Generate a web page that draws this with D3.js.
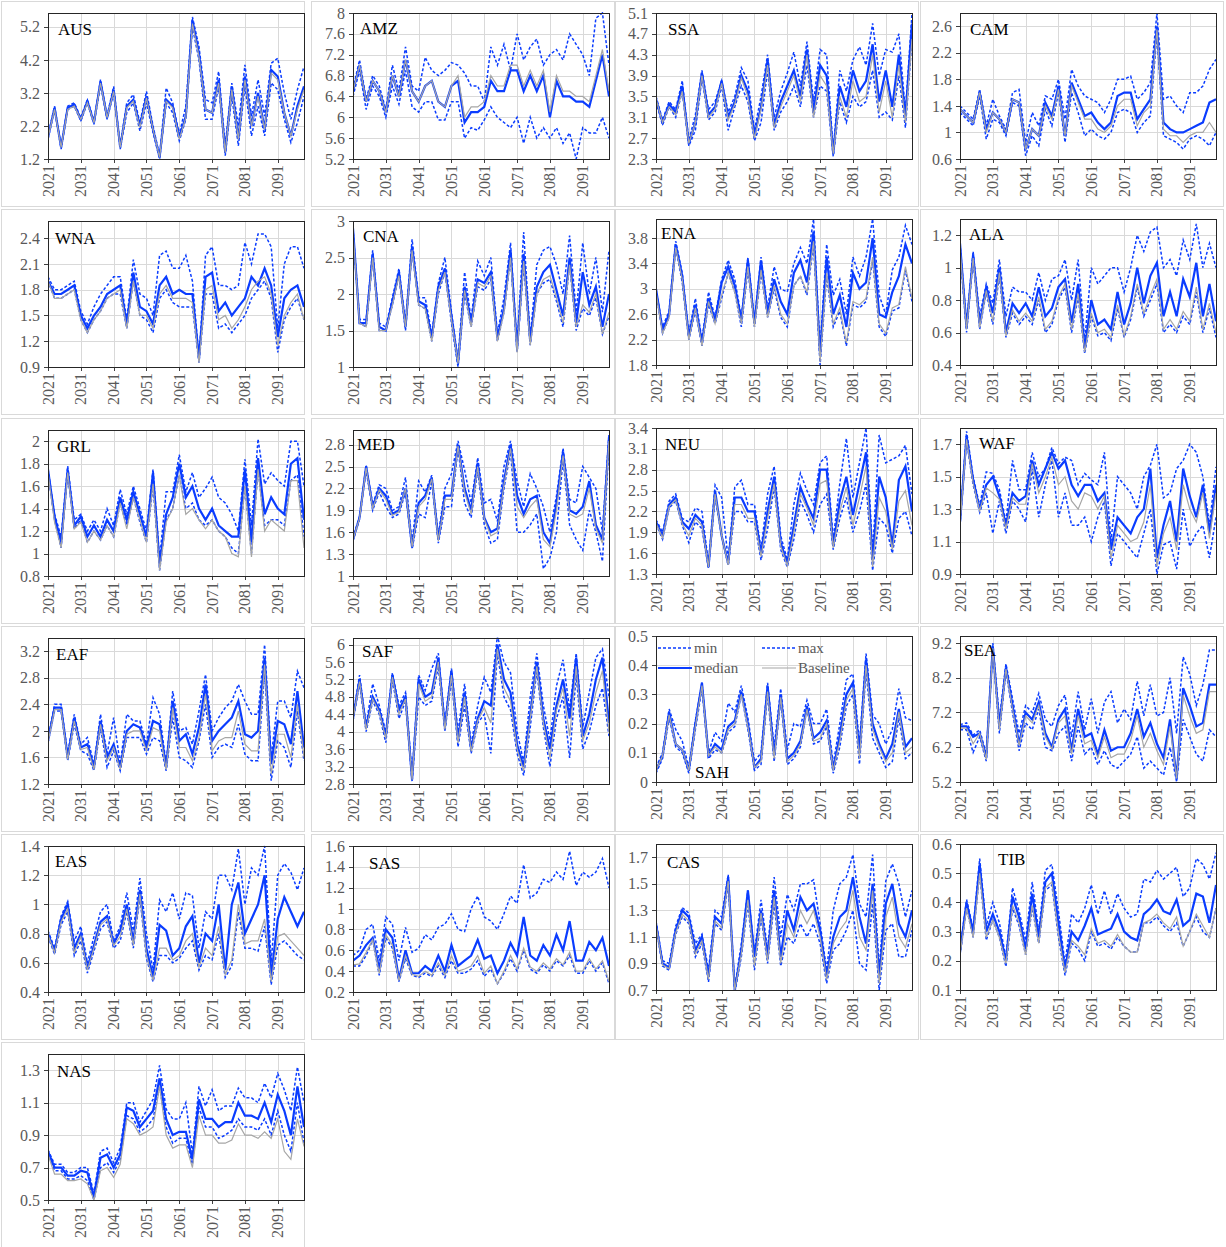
<!DOCTYPE html>
<html>
<head>
<meta charset="utf-8">
<script src="https://cdn.jsdelivr.net/npm/d3@7"></script>
<style>
body { margin: 0; background: #fff; }
text { font-family: "Liberation Serif", "Times New Roman", serif; }
</style>
</head>
<body>
<div id="chart"></div>
<script>
// one sample every second year, 2021..2099
var years = d3.range(2021, 2100, 2);
var xTicks = [2021, 2031, 2041, 2051, 2061, 2071, 2081, 2091];

var ausTicks = [1.2, 2.2, 3.2, 4.2, 5.2];
var ausMed = [1.85,2.75,1.55,2.75,2.85,2.4,2.95,2.3,3.55,2.45,3.3,1.55,2.8,3.0,2.2,3.1,2.1,1.25,3.0,2.8,1.85,2.5,5.4,4.4,2.7,2.6,3.6,1.4,3.4,1.8,3.7,2.2,3.2,2.1,3.9,3.7,2.6,1.9,2.8,3.4];
var ausMax = [1.9,2.8,1.6,2.8,2.9,2.45,3.0,2.35,3.6,2.5,3.4,1.6,2.9,3.15,2.3,3.25,2.2,1.3,3.35,2.9,1.95,2.8,5.5,4.6,3.0,2.9,3.85,1.6,3.5,2.2,4.05,2.5,3.6,2.5,4.1,4.25,3.2,2.4,3.3,4.0];
var ausMin = [1.8,2.7,1.5,2.7,2.8,2.35,2.9,2.25,3.45,2.4,3.2,1.5,2.6,2.9,2.05,2.9,2.0,1.2,2.9,2.6,1.75,2.4,5.2,4.2,2.4,2.4,3.4,1.3,3.1,1.6,3.4,1.9,2.8,1.9,3.5,3.3,2.4,1.7,2.3,3.1];
var ausBase = [1.85,2.7,1.55,2.7,2.8,2.4,2.9,2.3,3.5,2.45,3.25,1.55,2.75,2.95,2.15,3.05,2.1,1.25,2.95,2.75,1.8,2.45,5.3,4.3,2.7,2.6,3.5,1.4,3.3,1.8,3.6,2.2,3.1,2.1,3.8,3.6,2.6,1.9,2.7,3.3];

var amzTicks = [5.2, 5.6, 6, 6.4, 6.8, 7.2, 7.6, 8];
var amzMed = [6.5,7.0,6.3,6.7,6.5,6.1,6.8,6.4,7.1,6.5,6.3,6.6,6.7,6.3,6.2,6.6,6.7,5.9,6.1,6.1,6.2,6.7,6.5,6.5,6.9,6.9,6.5,6.8,6.5,6.8,6.0,6.7,6.4,6.4,6.3,6.3,6.2,6.7,7.2,6.4];
var amzMax = [6.55,7.1,6.35,6.8,6.6,6.15,7.0,6.5,7.35,6.6,6.5,7.15,6.9,6.8,6.9,7.05,7.0,6.85,6.6,6.6,6.3,7.35,7.0,7.4,6.9,7.6,7.1,7.35,7.5,7.0,7.2,7.3,7.1,7.6,7.4,7.2,6.8,7.9,8.0,7.0];
var amzMin = [6.4,6.9,6.15,6.6,6.4,6.0,6.6,6.25,6.9,6.2,6.1,6.3,6.3,5.95,5.95,6.3,6.3,5.6,5.8,5.75,5.95,6.2,6.0,5.9,5.8,6.0,5.5,6.0,5.6,5.8,5.6,5.8,5.5,5.7,5.2,5.8,5.7,5.7,6.0,5.6];
var amzBase = [6.5,7.0,6.3,6.7,6.5,6.1,6.8,6.4,7.1,6.5,6.3,6.6,6.7,6.3,6.2,6.6,6.8,6.0,6.2,6.2,6.3,6.8,6.6,6.6,7.0,7.0,6.6,6.9,6.6,6.9,6.1,6.8,6.5,6.5,6.4,6.4,6.3,6.8,7.3,6.5];

var ssaTicks = [2.3, 2.7, 3.1, 3.5, 3.9, 4.3, 4.7, 5.1];
var ssaMed = [3.45,3.0,3.35,3.2,3.7,2.6,3.0,3.95,3.15,3.3,3.8,3.1,3.4,3.9,3.6,2.75,3.3,4.2,2.95,3.4,3.7,4.0,3.5,4.4,3.2,4.1,3.9,2.4,3.7,3.3,4.0,3.6,3.8,4.5,3.4,4.0,3.3,4.3,3.1,4.9];
var ssaMax = [3.5,3.05,3.4,3.25,3.8,2.65,3.15,4.0,3.25,3.4,3.8,3.2,3.5,4.05,3.8,2.85,3.5,4.3,3.1,3.6,3.95,4.35,3.7,4.55,3.4,4.4,4.3,2.45,4.0,3.6,4.2,4.45,4.1,4.9,3.9,4.4,4.35,4.7,3.2,5.1];
var ssaMin = [3.4,2.95,3.3,3.1,3.6,2.55,2.85,3.85,3.05,3.2,3.7,2.85,3.3,3.7,3.4,2.65,3.0,4.0,2.85,3.2,3.4,3.7,3.3,4.1,3.1,3.7,3.6,2.35,3.4,3.0,3.5,3.3,3.4,4.0,3.1,3.2,3.05,3.9,2.9,4.6];
var ssaBase = [3.45,3.0,3.3,3.15,3.6,2.6,3.0,3.9,3.1,3.25,3.75,3.05,3.35,3.85,3.5,2.7,3.25,4.1,2.9,3.3,3.6,3.9,3.4,4.3,3.1,3.9,3.7,2.4,3.5,3.1,3.8,3.4,3.5,4.3,3.2,3.8,3.1,4.1,3.0,4.6];

var camTicks = [0.6, 1, 1.4, 1.8, 2.2, 2.6];
var camMed = [1.35,1.25,1.15,1.6,1.05,1.3,1.2,1.0,1.5,1.45,0.75,1.05,0.95,1.45,1.25,1.7,0.95,1.75,1.5,1.25,1.3,1.15,1.05,1.15,1.55,1.6,1.6,1.2,1.35,1.5,2.6,1.15,1.05,1.0,1.0,1.05,1.1,1.15,1.45,1.5];
var camMax = [1.4,1.3,1.2,1.65,1.1,1.5,1.25,1.05,1.6,1.65,0.85,1.3,1.1,1.55,1.5,1.8,1.2,1.95,1.7,1.55,1.5,1.45,1.3,1.5,1.8,1.8,1.85,1.5,1.6,1.75,2.8,1.5,1.55,1.4,1.3,1.6,1.6,1.7,1.95,2.1];
var camMin = [1.3,1.2,1.1,1.55,0.9,1.2,1.15,0.95,1.45,1.4,0.65,0.95,0.8,1.35,1.1,1.6,0.85,1.6,1.3,0.95,1.05,0.95,0.9,1.0,1.3,1.35,1.3,1.0,1.15,1.25,2.5,0.95,0.9,0.85,0.75,0.9,0.95,0.9,0.8,1.0];
var camBase = [1.35,1.25,1.15,1.6,1.0,1.3,1.2,1.0,1.5,1.45,0.75,1.05,0.95,1.4,1.2,1.65,0.95,1.7,1.45,1.2,1.2,1.05,1.0,1.1,1.4,1.5,1.5,1.1,1.3,1.4,2.55,1.05,0.95,0.95,0.85,0.95,1.0,1.0,1.15,1.0];

var wnaTicks = [0.9, 1.2, 1.5, 1.8, 2.1, 2.4];
var wnaMed = [1.9,1.75,1.75,1.8,1.85,1.5,1.35,1.5,1.6,1.75,1.8,1.85,1.4,2.0,1.6,1.55,1.4,1.85,1.95,1.75,1.8,1.75,1.75,1.0,1.95,2.0,1.55,1.65,1.5,1.6,1.7,1.95,1.85,2.05,1.85,1.25,1.7,1.8,1.85,1.6];
var wnaMax = [1.95,1.8,1.8,1.85,1.9,1.55,1.4,1.6,1.75,1.85,1.95,1.95,1.45,2.15,1.75,1.7,1.5,2.2,2.25,2.05,2.05,2.2,1.9,1.0,2.2,2.3,1.85,1.85,1.8,1.85,2.35,2.1,2.45,2.45,2.3,1.35,2.1,2.3,2.3,2.05];
var wnaMin = [1.9,1.7,1.7,1.75,1.8,1.45,1.3,1.45,1.55,1.7,1.75,1.75,1.35,1.9,1.5,1.45,1.3,1.7,1.8,1.65,1.6,1.6,1.6,0.95,1.75,1.75,1.35,1.4,1.3,1.4,1.5,1.7,1.8,1.9,1.7,1.07,1.45,1.6,1.7,1.45];
var wnaBase = [1.9,1.7,1.7,1.75,1.8,1.45,1.3,1.45,1.55,1.7,1.75,1.8,1.35,1.9,1.5,1.5,1.35,1.75,1.85,1.7,1.7,1.7,1.65,0.95,1.8,1.85,1.45,1.5,1.35,1.45,1.6,1.8,1.9,1.95,1.75,1.15,1.5,1.65,1.75,1.45];

var cnaTicks = [1, 1.5, 2, 2.5, 3];
var cnaMed = [2.9,1.6,1.6,2.55,1.55,1.5,1.9,2.3,1.55,2.65,1.9,1.85,1.4,2.1,2.35,1.7,1.05,2.1,1.6,2.2,2.15,2.3,1.4,1.8,2.6,1.25,2.55,1.35,2.1,2.3,2.4,2.05,1.7,2.5,1.6,2.3,1.85,2.1,1.55,2.0];
var cnaMax = [2.9,1.65,1.65,2.6,1.6,1.55,1.95,2.35,1.6,2.75,1.95,1.95,1.45,2.15,2.5,1.75,1.1,2.3,1.65,2.45,2.25,2.5,1.45,1.95,2.7,1.3,2.85,1.4,2.4,2.6,2.65,2.4,2.0,2.8,1.75,2.7,2.0,2.5,1.75,2.6];
var cnaMin = [2.85,1.6,1.55,2.5,1.5,1.5,1.85,2.25,1.5,2.6,1.85,1.8,1.35,2.0,2.3,1.6,1.0,2.0,1.55,2.1,2.05,2.2,1.35,1.75,2.5,1.2,2.4,1.3,2.0,2.15,2.2,1.9,1.55,2.4,1.5,1.8,1.7,1.95,1.45,1.7];
var cnaBase = [2.85,1.6,1.55,2.5,1.5,1.5,1.85,2.25,1.55,2.6,1.85,1.8,1.35,2.05,2.3,1.65,1.05,2.05,1.55,2.15,2.1,2.25,1.35,1.75,2.5,1.2,2.45,1.3,2.0,2.2,2.25,1.95,1.6,2.4,1.55,1.85,1.75,2.0,1.45,1.75];

var enaTicks = [1.8, 2.2, 2.6, 3, 3.4, 3.8];
var enaMed = [3.0,2.35,2.6,3.7,3.2,2.25,2.75,2.15,2.85,2.5,3.1,3.35,3.05,2.5,3.45,2.45,3.45,2.6,3.15,2.8,2.6,3.25,3.45,3.1,3.9,1.95,3.5,2.6,2.9,2.4,3.25,3.0,3.1,3.8,2.6,2.55,2.95,3.2,3.7,3.4];
var enaMax = [3.0,2.4,2.65,3.75,3.25,2.3,2.85,2.2,2.95,2.55,3.15,3.45,3.15,2.55,3.5,2.5,3.5,2.7,3.35,3.0,2.95,3.4,3.65,3.4,4.1,2.05,3.7,2.9,3.15,2.6,3.5,3.2,3.5,4.1,2.9,2.6,3.3,3.5,4.0,3.7];
var enaMin = [2.95,2.3,2.55,3.65,3.1,2.2,2.65,2.1,2.75,2.45,2.85,3.25,2.95,2.4,3.3,2.4,3.25,2.55,3.0,2.55,2.4,3.05,3.2,2.9,3.7,1.8,3.2,2.4,2.65,2.1,2.75,2.7,2.8,3.45,2.4,2.25,2.65,2.7,3.3,2.8];
var enaBase = [2.95,2.3,2.55,3.65,3.15,2.2,2.7,2.1,2.8,2.45,2.9,3.25,2.95,2.45,3.35,2.4,3.3,2.55,3.05,2.6,2.45,3.05,3.2,2.95,3.75,1.85,3.25,2.45,2.7,2.15,2.8,2.75,2.85,3.5,2.45,2.3,2.7,2.75,3.35,2.85];

var alaTicks = [0.4, 0.6, 0.8, 1, 1.2];
var alaMed = [1.15,0.63,1.08,0.65,0.88,0.72,1.0,0.6,0.78,0.72,0.78,0.7,0.88,0.7,0.75,0.88,0.93,0.66,0.9,0.5,0.8,0.65,0.68,0.62,0.85,0.65,0.78,1.0,0.78,0.95,1.03,0.7,0.85,0.7,0.93,0.82,1.03,0.7,0.9,0.67];
var alaMax = [1.15,0.65,1.1,0.7,0.9,0.78,1.05,0.7,0.88,0.85,0.85,0.8,0.97,0.8,0.93,0.95,1.05,0.8,1.05,0.55,1.0,0.9,0.95,1.0,1.0,0.85,1.0,1.2,1.1,1.22,1.25,1.0,1.05,0.95,1.17,1.05,1.27,1.0,1.15,1.0];
var alaMin = [1.1,0.6,1.05,0.62,0.85,0.65,0.95,0.57,0.72,0.65,0.7,0.65,0.8,0.6,0.65,0.8,0.88,0.6,0.82,0.47,0.7,0.58,0.6,0.55,0.75,0.57,0.68,0.88,0.7,0.8,0.9,0.6,0.65,0.6,0.7,0.65,0.85,0.6,0.75,0.57];
var alaBase = [1.12,0.62,1.06,0.63,0.86,0.67,0.97,0.58,0.74,0.67,0.72,0.67,0.82,0.62,0.67,0.82,0.9,0.62,0.84,0.48,0.72,0.6,0.62,0.57,0.77,0.58,0.7,0.9,0.72,0.83,0.93,0.62,0.68,0.62,0.73,0.67,0.88,0.62,0.78,0.6];

var grlTicks = [0.8, 1, 1.2, 1.4, 1.6, 1.8, 2];
var grlMed = [1.75,1.33,1.1,1.75,1.25,1.33,1.15,1.25,1.15,1.3,1.2,1.5,1.3,1.55,1.35,1.15,1.72,0.9,1.35,1.5,1.8,1.5,1.6,1.4,1.3,1.4,1.25,1.2,1.15,1.15,1.75,1.1,1.85,1.35,1.5,1.4,1.35,1.8,1.85,1.3];
var grlMax = [1.75,1.35,1.15,1.78,1.3,1.35,1.2,1.3,1.2,1.4,1.25,1.57,1.35,1.6,1.4,1.2,1.75,0.95,1.55,1.55,1.88,1.55,1.72,1.5,1.58,1.68,1.5,1.45,1.35,1.2,1.84,1.25,2.02,1.62,1.72,1.65,1.6,2.0,2.0,1.6];
var grlMin = [1.72,1.3,1.05,1.72,1.22,1.3,1.1,1.2,1.12,1.25,1.15,1.45,1.25,1.5,1.28,1.1,1.6,0.85,1.3,1.4,1.7,1.4,1.45,1.3,1.25,1.3,1.2,1.15,1.05,1.0,1.6,1.0,1.75,1.25,1.3,1.3,1.25,1.65,1.7,1.15];
var grlBase = [1.72,1.28,1.05,1.72,1.22,1.28,1.1,1.2,1.12,1.25,1.15,1.45,1.22,1.5,1.3,1.1,1.62,0.85,1.28,1.4,1.7,1.35,1.4,1.3,1.22,1.3,1.2,1.15,1.0,0.97,1.6,0.97,1.75,1.2,1.3,1.25,1.2,1.65,1.65,1.05];

var medTicks = [1, 1.3, 1.6, 1.9, 2.2, 2.5, 2.8];
var medMed = [1.5,1.8,2.5,1.95,2.2,2.1,1.85,1.9,2.2,1.4,2.0,2.1,2.35,1.5,2.1,2.1,2.8,2.2,1.9,2.55,1.8,1.6,1.65,2.3,2.8,2.1,1.85,2.05,2.1,1.6,1.45,2.0,2.7,1.9,1.85,1.95,2.3,1.7,1.5,2.9];
var medMax = [1.52,1.82,2.52,1.98,2.25,2.2,1.9,1.95,2.35,1.45,2.3,2.15,2.38,1.55,2.2,2.4,2.85,2.45,2.0,2.62,2.0,2.05,1.75,2.5,2.85,2.3,1.95,2.4,2.2,1.95,1.6,2.1,2.75,2.05,2.0,2.5,2.35,2.2,1.6,2.95];
var medMin = [1.48,1.78,2.45,1.9,2.15,1.95,1.8,1.85,2.15,1.37,1.85,1.8,2.3,1.45,1.95,1.95,2.75,2.0,1.8,2.45,1.7,1.45,1.5,2.2,2.7,1.6,1.6,1.7,1.85,1.1,1.25,1.6,2.6,1.7,1.5,1.35,1.9,1.6,1.2,2.8];
var medBase = [1.5,1.79,2.48,1.93,2.18,2.05,1.83,1.88,2.2,1.4,1.95,2.05,2.33,1.48,2.05,2.05,2.78,2.15,1.85,2.5,1.78,1.55,1.6,2.25,2.75,1.95,1.8,1.95,2.05,1.5,1.4,1.9,2.65,1.85,1.8,1.85,2.2,1.65,1.45,2.85];

var neuTicks = [1.3, 1.6, 1.9, 2.2, 2.5, 2.8, 3.1, 3.4];
var neuMed = [2.05,1.85,2.3,2.4,2.05,1.95,2.15,2.05,1.4,2.5,1.85,1.45,2.4,2.4,2.2,2.2,1.6,2.2,2.7,1.75,1.45,2.0,2.55,2.3,2.1,2.8,2.8,1.7,2.35,2.7,2.15,2.6,3.05,1.5,2.7,2.4,1.7,2.65,2.85,2.2];
var neuMax = [2.08,1.9,2.35,2.45,2.1,2.05,2.25,2.2,1.45,2.58,2.4,1.5,2.55,2.65,2.3,2.3,1.65,2.45,2.85,1.85,1.5,2.3,2.75,2.5,2.3,2.9,3.0,1.8,2.6,3.25,2.4,2.9,3.4,1.6,3.3,2.9,2.95,3.0,3.15,2.45];
var neuMin = [2.02,1.8,2.25,2.35,2.0,1.75,2.05,1.95,1.38,2.4,1.85,1.42,2.2,2.2,2.05,2.05,1.5,1.95,2.55,1.65,1.4,1.8,2.35,2.15,1.9,2.3,2.45,1.65,2.1,2.4,1.9,2.2,2.6,1.35,2.1,2.0,1.6,2.1,2.2,1.85];
var neuBase = [2.03,1.82,2.27,2.37,2.02,1.85,2.1,2.0,1.4,2.45,1.85,1.43,2.3,2.3,2.1,2.1,1.55,2.1,2.6,1.7,1.42,1.9,2.45,2.25,2.0,2.6,2.65,1.68,2.2,2.55,2.0,2.4,2.85,1.4,2.4,2.2,1.65,2.35,2.5,2.0];

var wafTicks = [0.9, 1.1, 1.3, 1.5, 1.7];
var wafMed = [1.22,1.75,1.48,1.3,1.45,1.5,1.38,1.2,1.4,1.35,1.38,1.6,1.45,1.55,1.65,1.55,1.6,1.45,1.38,1.45,1.45,1.35,1.4,1.05,1.25,1.2,1.15,1.25,1.3,1.55,1.0,1.2,1.35,1.1,1.55,1.38,1.25,1.45,1.15,1.45];
var wafMax = [1.22,1.78,1.5,1.32,1.53,1.52,1.42,1.22,1.6,1.42,1.42,1.65,1.5,1.55,1.68,1.58,1.62,1.6,1.45,1.52,1.48,1.45,1.65,1.1,1.5,1.45,1.4,1.3,1.5,1.57,1.7,1.37,1.4,1.55,1.6,1.7,1.65,1.5,1.2,1.56];
var wafMin = [1.2,1.72,1.45,1.28,1.4,1.15,1.35,1.15,1.35,1.3,1.22,1.55,1.25,1.45,1.6,1.25,1.4,1.2,1.2,1.25,1.1,1.25,1.35,0.95,1.15,1.1,1.05,1.0,1.15,1.3,0.9,1.08,1.1,0.93,1.3,1.07,1.15,1.2,1.0,1.25];
var wafBase = [1.21,1.73,1.46,1.29,1.43,1.4,1.36,1.18,1.37,1.33,1.33,1.58,1.4,1.5,1.62,1.45,1.5,1.35,1.3,1.4,1.38,1.3,1.38,1.0,1.2,1.15,1.1,1.12,1.22,1.45,0.95,1.15,1.25,1.05,1.45,1.3,1.22,1.4,1.12,1.4];

var eafTicks = [1.2, 1.6, 2, 2.4, 2.8, 3.2];
var eafMed = [1.85,2.35,2.35,1.6,2.2,1.75,1.8,1.45,2.15,1.6,1.8,1.45,2.0,2.1,2.05,1.75,2.15,2.1,1.45,2.45,1.85,1.95,1.65,2.05,2.7,1.85,2.0,2.1,2.2,2.45,1.95,1.9,2.0,3.1,1.5,2.15,2.1,1.8,2.6,1.75];
var eafMax = [1.88,2.4,2.4,1.65,2.25,1.8,1.9,1.5,2.25,1.65,2.2,1.5,2.25,2.15,2.15,1.8,2.5,2.25,1.5,2.6,2.0,2.05,1.8,2.3,2.85,2.0,2.2,2.35,2.45,2.7,2.45,2.25,2.25,3.3,1.6,2.45,2.45,2.2,2.9,2.65];
var eafMin = [1.82,2.3,2.3,1.55,2.1,1.7,1.65,1.4,2.05,1.45,1.7,1.4,1.9,1.9,1.9,1.65,1.9,1.85,1.4,2.2,1.6,1.55,1.45,1.85,2.4,1.6,1.75,1.8,1.75,2.1,1.65,1.55,1.55,2.9,1.25,1.85,1.75,1.45,2.3,1.55];
var eafBase = [1.83,2.32,2.32,1.57,2.15,1.72,1.75,1.42,2.1,1.55,1.75,1.42,1.95,2.0,2.0,1.7,2.05,2.0,1.42,2.35,1.75,1.75,1.55,1.9,2.55,1.7,1.85,1.9,1.9,2.3,1.8,1.7,1.7,3.0,1.35,1.95,1.95,1.6,2.4,1.6];

var safTicks = [2.8, 3.2, 3.6, 4, 4.4, 4.8, 5.2, 5.6, 6];
var safMed = [4.3,5.2,4.1,4.8,4.5,3.9,5.3,4.5,4.8,2.9,5.2,4.8,4.9,5.7,4.1,5.4,3.8,4.9,3.6,4.3,4.7,4.6,6.0,5.2,4.9,3.7,3.2,4.4,5.6,4.3,3.6,4.6,5.2,4.3,5.7,3.9,4.4,5.2,5.7,4.2];
var safMax = [4.35,5.3,4.15,5.1,4.6,4.0,5.35,4.6,4.9,3.0,5.3,4.95,5.45,5.8,4.2,5.45,4.0,5.1,3.7,4.6,5.25,4.9,6.2,5.6,5.35,4.0,3.3,4.8,5.8,4.6,3.8,5.05,5.65,4.5,5.8,4.1,4.9,5.7,5.9,4.8];
var safMin = [4.25,5.1,4.0,4.7,4.4,3.75,5.2,4.3,4.7,2.85,4.8,4.6,4.7,5.5,4.0,5.2,3.65,4.6,3.5,4.2,4.4,3.5,5.8,4.8,4.5,3.5,3.0,4.1,5.4,4.1,3.2,4.3,4.8,3.4,5.3,3.6,4.0,4.6,5.0,3.9];
var safBase = [4.28,5.15,4.05,4.75,4.45,3.85,5.25,4.4,4.75,2.9,5.1,4.7,4.8,5.6,4.05,5.3,3.75,4.8,3.55,4.25,4.55,4.2,5.9,5.0,4.7,3.6,3.1,4.3,5.5,4.2,3.4,4.5,5.0,3.9,5.5,3.8,4.2,4.9,5.4,4.0];

var sahTicks = [0, 0.1, 0.2, 0.3, 0.4, 0.5];
var sahMed = [0.04,0.09,0.24,0.13,0.11,0.04,0.2,0.34,0.09,0.13,0.11,0.19,0.21,0.31,0.2,0.05,0.08,0.33,0.09,0.3,0.08,0.1,0.14,0.26,0.15,0.17,0.21,0.04,0.16,0.3,0.34,0.1,0.42,0.2,0.13,0.08,0.13,0.25,0.12,0.15];
var sahMax = [0.05,0.1,0.25,0.18,0.14,0.05,0.21,0.34,0.1,0.17,0.14,0.27,0.24,0.33,0.22,0.07,0.1,0.34,0.12,0.32,0.11,0.2,0.19,0.28,0.2,0.2,0.25,0.06,0.2,0.35,0.37,0.13,0.44,0.23,0.2,0.13,0.18,0.32,0.22,0.21];
var sahMin = [0.03,0.08,0.22,0.12,0.1,0.03,0.18,0.32,0.08,0.11,0.1,0.17,0.19,0.3,0.18,0.04,0.06,0.3,0.07,0.28,0.06,0.08,0.12,0.25,0.13,0.14,0.19,0.03,0.12,0.26,0.3,0.06,0.38,0.15,0.1,0.05,0.07,0.22,0.08,0.1];
var sahBase = [0.04,0.09,0.23,0.13,0.11,0.04,0.19,0.33,0.09,0.12,0.1,0.18,0.2,0.3,0.19,0.05,0.07,0.31,0.08,0.29,0.07,0.09,0.13,0.25,0.14,0.15,0.2,0.04,0.14,0.28,0.32,0.08,0.4,0.18,0.12,0.07,0.1,0.24,0.1,0.12];

var seaTicks = [5.2, 6.2, 7.2, 8.2, 9.2];
var seaMed = [6.8,6.8,6.5,6.6,5.9,9.1,6.8,8.5,7.4,6.3,7.2,7.0,7.5,6.6,6.2,7.0,7.3,6.1,7.3,6.5,6.6,6.0,6.7,6.1,6.2,6.2,6.6,7.3,6.5,6.9,6.3,5.9,7.0,5.3,7.9,7.4,6.8,6.9,8.0,8.0];
var seaMax = [6.85,6.9,6.55,6.7,6.0,9.2,7.0,8.6,7.6,6.6,7.4,7.2,7.75,7.0,6.8,7.4,7.7,6.5,7.8,6.7,7.6,6.6,7.5,7.8,6.9,7.3,7.0,8.1,7.1,8.0,7.1,7.2,8.2,6.6,8.8,8.3,7.4,8.0,9.0,9.0];
var seaMin = [6.7,6.7,6.05,6.5,5.8,9.0,6.6,8.4,7.2,6.1,6.9,6.7,7.3,6.2,6.1,6.6,6.8,5.8,6.8,6.0,6.2,5.7,6.1,5.7,5.6,5.8,6.0,6.5,5.6,5.8,5.6,5.4,6.2,5.2,7.0,6.5,6.0,5.8,6.7,6.5];
var seaBase = [6.75,6.75,6.3,6.6,5.85,9.05,6.7,8.45,7.3,6.25,7.1,6.9,7.4,6.5,6.15,6.9,7.1,6.0,7.1,6.3,6.4,5.9,6.5,5.9,6.0,6.0,6.4,7.1,6.2,6.6,6.1,5.7,6.8,5.3,7.7,7.1,6.6,6.7,7.8,7.8];

var easTicks = [0.4, 0.6, 0.8, 1, 1.2, 1.4];
var easMed = [0.8,0.68,0.9,1.0,0.7,0.8,0.56,0.72,0.88,0.92,0.73,0.82,1.0,0.75,1.1,0.7,0.5,0.86,0.82,0.65,0.7,0.85,0.92,0.6,0.8,0.75,1.0,0.55,1.0,1.15,0.8,0.9,1.0,1.2,0.5,0.9,1.05,0.95,0.85,0.95];
var easMax = [0.82,0.7,0.92,1.02,0.75,0.85,0.6,0.78,0.95,1.0,0.75,0.85,1.08,0.82,1.18,0.8,0.55,1.03,0.95,1.08,0.9,1.08,1.06,0.7,0.95,0.9,1.2,1.2,1.1,1.38,1.0,1.25,1.2,1.4,0.6,1.2,1.28,1.22,1.1,1.25];
var easMin = [0.78,0.66,0.86,0.95,0.65,0.75,0.53,0.68,0.83,0.88,0.7,0.75,0.95,0.7,1.05,0.63,0.47,0.65,0.65,0.6,0.63,0.7,0.75,0.55,0.65,0.62,0.8,0.5,0.58,0.95,0.7,0.7,0.68,0.85,0.45,0.72,0.75,0.7,0.65,0.62];
var easBase = [0.79,0.67,0.88,0.97,0.67,0.78,0.55,0.7,0.86,0.9,0.72,0.78,0.97,0.72,1.07,0.65,0.48,0.7,0.7,0.62,0.65,0.75,0.8,0.57,0.7,0.65,0.85,0.52,0.62,1.0,0.73,0.75,0.75,0.9,0.47,0.78,0.8,0.75,0.7,0.65];

var sasTicks = [0.2, 0.4, 0.6, 0.8, 1, 1.2, 1.4, 1.6];
var sasMed = [0.5,0.55,0.65,0.72,0.42,0.8,0.72,0.32,0.6,0.38,0.38,0.45,0.4,0.55,0.4,0.65,0.45,0.5,0.55,0.7,0.52,0.55,0.38,0.5,0.67,0.55,0.92,0.55,0.5,0.65,0.55,0.75,0.6,0.88,0.5,0.5,0.68,0.6,0.72,0.45];
var sasMax = [0.55,0.6,0.8,0.85,0.5,0.92,0.85,0.5,0.82,0.58,0.62,0.75,0.7,0.82,0.85,0.95,0.8,0.78,1.0,1.12,0.92,0.88,0.8,0.95,1.12,1.05,1.42,1.1,1.15,1.28,1.25,1.35,1.28,1.55,1.22,1.35,1.3,1.35,1.48,1.2];
var sasMin = [0.45,0.45,0.55,0.7,0.36,0.72,0.62,0.3,0.52,0.36,0.34,0.38,0.35,0.45,0.34,0.5,0.38,0.38,0.42,0.5,0.35,0.42,0.28,0.38,0.52,0.4,0.6,0.42,0.38,0.46,0.4,0.5,0.45,0.55,0.38,0.38,0.5,0.4,0.48,0.28];
var sasBase = [0.46,0.47,0.58,0.7,0.38,0.75,0.65,0.31,0.55,0.37,0.35,0.4,0.36,0.48,0.36,0.55,0.4,0.42,0.45,0.55,0.38,0.45,0.28,0.4,0.55,0.42,0.62,0.44,0.4,0.48,0.42,0.52,0.46,0.58,0.4,0.4,0.52,0.42,0.5,0.3];

var casTicks = [0.7, 0.9, 1.1, 1.3, 1.5, 1.7];
var casMed = [1.2,0.9,0.87,1.15,1.3,1.25,1.0,1.1,0.8,1.25,1.2,1.55,0.7,1.0,1.45,0.95,1.3,0.95,1.45,0.95,1.3,1.15,1.4,1.3,1.35,1.15,0.8,1.1,1.25,1.3,1.55,1.25,1.05,1.5,0.8,1.35,1.5,1.2,1.1,1.3];
var casMax = [1.22,0.92,0.9,1.18,1.32,1.28,1.05,1.12,0.85,1.3,1.25,1.57,0.72,1.05,1.45,0.98,1.38,1.0,1.55,1.1,1.42,1.3,1.5,1.5,1.53,1.2,0.85,1.3,1.5,1.55,1.72,1.35,1.25,1.72,0.85,1.52,1.65,1.5,1.25,1.45];
var casMin = [1.18,0.88,0.85,1.12,1.25,1.2,0.95,1.05,0.76,1.2,1.15,1.5,0.68,0.95,1.35,0.85,1.25,0.9,1.35,0.88,1.1,1.05,1.2,1.1,1.2,1.05,0.75,1.0,1.05,1.15,1.3,0.9,0.85,1.35,0.7,1.15,1.2,0.95,0.95,1.15];
var casBase = [1.19,0.89,0.86,1.13,1.27,1.22,0.97,1.07,0.78,1.22,1.17,1.52,0.7,0.97,1.38,0.88,1.28,0.92,1.4,0.9,1.2,1.1,1.3,1.2,1.3,1.1,0.78,1.05,1.15,1.22,1.45,1.1,1.0,1.45,0.75,1.25,1.4,1.1,1.02,1.2];

var tibTicks = [0.1, 0.2, 0.3, 0.4, 0.5, 0.6];
var tibMed = [0.23,0.4,0.3,0.53,0.3,0.36,0.3,0.2,0.42,0.35,0.24,0.43,0.28,0.47,0.5,0.33,0.17,0.3,0.27,0.32,0.38,0.29,0.3,0.31,0.36,0.3,0.28,0.27,0.36,0.38,0.41,0.37,0.36,0.41,0.32,0.34,0.43,0.42,0.33,0.46];
var tibMax = [0.24,0.41,0.31,0.55,0.32,0.4,0.33,0.21,0.45,0.37,0.27,0.47,0.3,0.51,0.53,0.37,0.19,0.36,0.33,0.38,0.46,0.36,0.44,0.36,0.43,0.38,0.35,0.36,0.48,0.47,0.51,0.48,0.5,0.52,0.42,0.45,0.55,0.53,0.48,0.57];
var tibMin = [0.22,0.38,0.28,0.5,0.27,0.34,0.28,0.18,0.38,0.32,0.22,0.38,0.26,0.44,0.46,0.28,0.15,0.26,0.24,0.2,0.3,0.25,0.26,0.24,0.28,0.25,0.23,0.23,0.33,0.33,0.35,0.32,0.3,0.33,0.25,0.3,0.35,0.3,0.28,0.38];
var tibBase = [0.22,0.38,0.28,0.5,0.28,0.34,0.28,0.19,0.39,0.33,0.22,0.39,0.26,0.45,0.47,0.29,0.16,0.27,0.25,0.22,0.31,0.26,0.27,0.25,0.29,0.25,0.23,0.23,0.33,0.34,0.36,0.33,0.31,0.35,0.25,0.3,0.36,0.32,0.28,0.38];

var nasTicks = [0.5, 0.7, 0.9, 1.1, 1.3];
var nasMed = [0.8,0.7,0.7,0.65,0.65,0.68,0.67,0.52,0.76,0.78,0.7,0.78,1.07,1.05,0.95,1.0,1.05,1.25,1.0,0.9,0.92,0.92,0.75,1.12,1.0,1.0,0.95,0.98,0.98,1.1,1.02,1.02,1.0,1.1,0.98,1.15,1.05,0.9,1.2,0.95];
var nasMax = [0.81,0.72,0.72,0.67,0.67,0.7,0.7,0.54,0.8,0.82,0.73,0.82,1.1,1.1,0.98,1.05,1.12,1.33,1.06,1.0,1.0,1.1,0.78,1.2,1.08,1.18,1.05,1.08,1.08,1.19,1.13,1.13,1.1,1.22,1.13,1.28,1.18,1.05,1.32,1.1];
var nasMin = [0.79,0.68,0.68,0.63,0.63,0.65,0.62,0.5,0.7,0.73,0.67,0.75,1.02,1.0,0.92,0.95,1.0,1.2,0.95,0.85,0.88,0.88,0.72,1.07,0.95,0.95,0.88,0.9,0.93,1.0,0.95,0.95,0.93,1.0,0.9,1.05,0.9,0.8,1.1,0.85];
var nasBase = [0.78,0.66,0.66,0.62,0.62,0.63,0.6,0.5,0.68,0.7,0.64,0.72,1.0,0.97,0.9,0.92,0.95,1.2,0.9,0.82,0.84,0.84,0.7,1.02,0.9,0.9,0.85,0.85,0.87,0.97,0.9,0.9,0.88,0.92,0.88,1.0,0.8,0.75,1.0,0.83];

// table of panels, in reading order
var regions = [
  {name: "AUS", ticks: ausTicks, top: 5.62, min: ausMin, max: ausMax, median: ausMed, base: ausBase},
  {name: "AMZ", ticks: amzTicks, top: 8, min: amzMin, max: amzMax, median: amzMed, base: amzBase},
  {name: "SSA", ticks: ssaTicks, top: 5.1, min: ssaMin, max: ssaMax, median: ssaMed, base: ssaBase},
  {name: "CAM", ticks: camTicks, top: 2.8, min: camMin, max: camMax, median: camMed, base: camBase},
  {name: "WNA", ticks: wnaTicks, top: 2.6, min: wnaMin, max: wnaMax, median: wnaMed, base: wnaBase},
  {name: "CNA", ticks: cnaTicks, top: 3, min: cnaMin, max: cnaMax, median: cnaMed, base: cnaBase},
  {name: "ENA", ticks: enaTicks, top: 4.1, min: enaMin, max: enaMax, median: enaMed, base: enaBase},
  {name: "ALA", ticks: alaTicks, top: 1.3, min: alaMin, max: alaMax, median: alaMed, base: alaBase},
  {name: "GRL", ticks: grlTicks, top: 2.1, min: grlMin, max: grlMax, median: grlMed, base: grlBase},
  {name: "MED", ticks: medTicks, top: 3, min: medMin, max: medMax, median: medMed, base: medBase},
  {name: "NEU", ticks: neuTicks, top: 3.4, min: neuMin, max: neuMax, median: neuMed, base: neuBase},
  {name: "WAF", ticks: wafTicks, top: 1.8, min: wafMin, max: wafMax, median: wafMed, base: wafBase},
  {name: "EAF", ticks: eafTicks, top: 3.4, min: eafMin, max: eafMax, median: eafMed, base: eafBase},
  {name: "SAF", ticks: safTicks, top: 6.15, min: safMin, max: safMax, median: safMed, base: safBase},
  {name: "SAH", ticks: sahTicks, top: 0.5, min: sahMin, max: sahMax, median: sahMed, base: sahBase},
  {name: "SEA", ticks: seaTicks, top: 9.4, min: seaMin, max: seaMax, median: seaMed, base: seaBase},
  {name: "EAS", ticks: easTicks, top: 1.4, min: easMin, max: easMax, median: easMed, base: easBase},
  {name: "SAS", ticks: sasTicks, top: 1.6, min: sasMin, max: sasMax, median: sasMed, base: sasBase},
  {name: "CAS", ticks: casTicks, top: 1.8, min: casMin, max: casMax, median: casMed, base: casBase},
  {name: "TIB", ticks: tibTicks, top: 0.6, min: tibMin, max: tibMax, median: tibMed, base: tibBase},
  {name: "NAS", ticks: nasTicks, top: 1.4, min: nasMin, max: nasMax, median: nasMed, base: nasBase}
];

var blue = "#0a3cff", grey = "#a6a6a6", tickGrey = "#595959", gridGrey = "#d9d9d9";

var colLeft = [1, 311, 615, 920], colW = 303;
var rowTop = [1, 209, 418, 626, 834, 1042], rowH = 205;
var plotDx = [47, 42, 41, 40];
var plotW = 256, plotH = 146;

// where each region name sits inside its plot (same order as regions)
var labelDx = [10, 7, 12, 10, 7, 10, 5, 9, 9, 4, 9, 19, 8, 9, 39, 4, 7, 16, 11, 38, 9];
var labelDy = [22, 21, 22, 22, 23, 21, 20, 21, 22, 20, 22, 21, 22, 19, 142, 20, 21, 23, 24, 21, 23];

var svg = d3.select("#chart")
  .append("svg")
    .attr("width", 1226)
    .attr("height", 1247);

var fmt = function(v) { return String(+v.toFixed(2)); };

regions.forEach(function(r, i) {
  var row = Math.floor(i / 4), col = i % 4;
  var px = colLeft[col], py = rowTop[row];

  // light frame round each small chart
  svg.append("rect")
    .attr("x", px + 0.5).attr("y", py + 0.5)
    .attr("width", colW).attr("height", rowH)
    .attr("fill", "none")
    .attr("stroke", gridGrey);

  var left = px + plotDx[col];
  var top = py + ((col < 2 || row == 0) ? 12 : 10);

  var g = svg.append("g")
    .attr("transform", "translate(" + left + "," + top + ")");

  var x = d3.scaleLinear().domain([2021, 2099]).range([0, plotW]);
  var y = d3.scaleLinear().domain([r.ticks[0], r.top]).range([plotH, 0]);

  // grid
  g.append("g").selectAll("line")
    .data(r.ticks)
    .enter().append("line")
      .attr("x1", 0).attr("x2", plotW)
      .attr("y1", function(d) { return Math.round(y(d)) + 0.5; })
      .attr("y2", function(d) { return Math.round(y(d)) + 0.5; })
      .attr("stroke", gridGrey);
  g.append("g").selectAll("line")
    .data(xTicks.slice(1))
    .enter().append("line")
      .attr("x1", function(d) { return Math.round(x(d)) + 0.5; })
      .attr("x2", function(d) { return Math.round(x(d)) + 0.5; })
      .attr("y1", 0).attr("y2", plotH)
      .attr("stroke", gridGrey);

  // y labels
  g.append("g").selectAll("text")
    .data(r.ticks)
    .enter().append("text")
      .attr("x", -8)
      .attr("y", function(d) { return y(d); })
      .attr("dy", "0.35em")
      .attr("text-anchor", "end")
      .attr("font-size", "16px")
      .attr("fill", tickGrey)
      .text(fmt);
  g.append("g").selectAll("line")
    .data(r.ticks)
    .enter().append("line")
      .attr("x1", -4).attr("x2", 0)
      .attr("y1", function(d) { return Math.round(y(d)) + 0.5; })
      .attr("y2", function(d) { return Math.round(y(d)) + 0.5; })
      .attr("stroke", "#404040");

  // x labels, turned upright
  g.append("g").selectAll("text")
    .data(xTicks)
    .enter().append("text")
      .attr("transform", function(d) { return "translate(" + (x(d) + 5.5) + "," + (plotH + 6) + ") rotate(-90)"; })
      .attr("text-anchor", "end")
      .attr("font-size", "16px")
      .attr("fill", tickGrey)
      .text(function(d) { return d; });
  g.append("g").selectAll("line")
    .data(xTicks)
    .enter().append("line")
      .attr("x1", function(d) { return Math.round(x(d)) + 0.5; })
      .attr("x2", function(d) { return Math.round(x(d)) + 0.5; })
      .attr("y1", plotH).attr("y2", plotH + 4)
      .attr("stroke", "#404040");

  var clipId = "clip" + i;
  g.append("clipPath").attr("id", clipId)
    .append("rect").attr("x", 0).attr("y", -1).attr("width", plotW).attr("height", plotH + 2);

  var line = d3.line()
    .x(function(d, k) { return x(years[k]); })
    .y(function(d) { return y(d); });

  var lines = g.append("g").attr("clip-path", "url(#" + clipId + ")");
  lines.append("path").datum(r.min)
    .attr("d", line).attr("fill", "none")
    .attr("stroke", blue).attr("stroke-width", 1.5).attr("stroke-dasharray", "3,2");
  lines.append("path").datum(r.max)
    .attr("d", line).attr("fill", "none")
    .attr("stroke", blue).attr("stroke-width", 1.5).attr("stroke-dasharray", "3,2");
  lines.append("path").datum(r.median)
    .attr("d", line).attr("fill", "none")
    .attr("stroke", blue).attr("stroke-width", 2.2);
  lines.append("path").datum(r.base)
    .attr("d", line).attr("fill", "none")
    .attr("stroke", grey).attr("stroke-width", 1.2);

  // plot border
  g.append("rect")
    .attr("x", 0.5).attr("y", 0.5)
    .attr("width", plotW).attr("height", plotH)
    .attr("fill", "none")
    .attr("stroke", "#262626");

  // region name
  g.append("text")
    .attr("x", labelDx[i]).attr("y", labelDy[i])
    .attr("font-size", "17px")
    .attr("fill", "#000")
    .text(r.name);

  // legend sits inside the SAH panel
  if (r.name == "SAH") {
    var items = [
      {label: "min", dx: 2, dy: 12, color: blue, w: 1.5, dash: "3,2"},
      {label: "max", dx: 106, dy: 12, color: blue, w: 1.5, dash: "3,2"},
      {label: "median", dx: 2, dy: 32, color: blue, w: 2.2, dash: null},
      {label: "Baseline", dx: 106, dy: 32, color: grey, w: 1.2, dash: null}
    ];
    var leg = g.append("g");
    items.forEach(function(it) {
      leg.append("line")
        .attr("x1", it.dx).attr("x2", it.dx + 34)
        .attr("y1", it.dy).attr("y2", it.dy)
        .attr("stroke", it.color).attr("stroke-width", it.w)
        .attr("stroke-dasharray", it.dash);
      leg.append("text")
        .attr("x", it.dx + 36).attr("y", it.dy)
        .attr("dy", "0.35em")
        .attr("font-size", "15px")
        .attr("fill", tickGrey)
        .text(it.label);
    });
  }
});
</script>
</body>
</html>
